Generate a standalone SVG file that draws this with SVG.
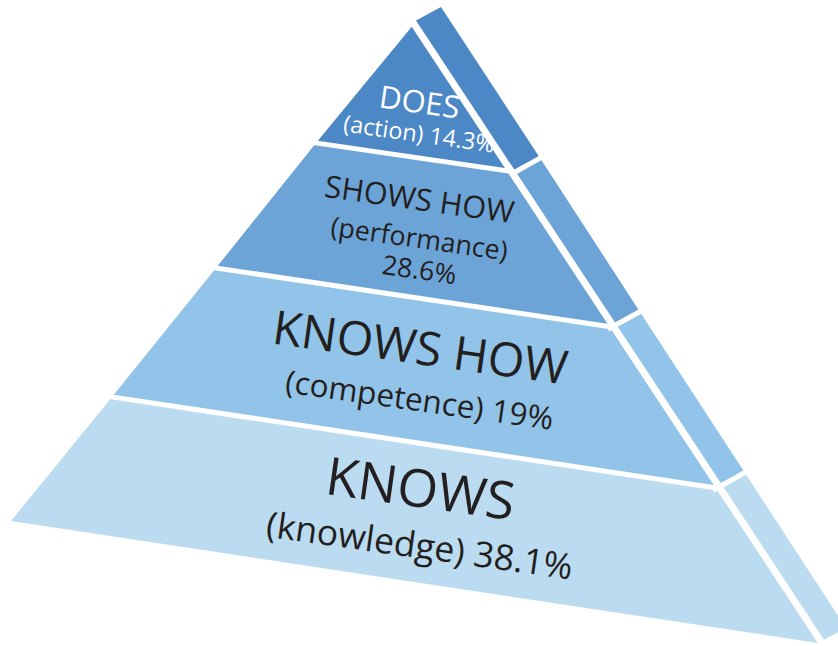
<svg xmlns="http://www.w3.org/2000/svg" width="838" height="646" viewBox="0 0 838 646">
<style>
.t{font-family:"Open Sans","Liberation Sans",sans-serif;text-anchor:middle;fill:#231f20}
.w{fill:#ffffff}
.sep{stroke:#ffffff;fill:none;stroke-linecap:butt}
.l1{fill:#4c87c6}
.l2{fill:#6ca4d8}
.l3{fill:#92c4e9}
.l4{fill:#bbdbf1}
</style>
<rect width="838" height="646" fill="#ffffff"/>
<g id="knows">
<polygon class="l4" points="112,397 717,488 818,643 11,521"/>
<polygon class="l4" points="717,488 745,473 846,628 818,643"/>
<text class="t" font-size="52.5" transform="rotate(8 418 507)" x="418" y="507">KNOWS</text>
<text class="t" font-size="35.5" transform="rotate(8 418 558)" x="418" y="558">(knowledge) 38.1%</text>
</g>
<g id="knows-how">
<polygon class="l3" points="216,268 613,327 717,488 112,397"/>
<polygon class="l3" points="612,327 640,312 745,473 717,488"/>
<text class="t" font-size="47" transform="rotate(8 418 364)" x="418" y="364">KNOWS HOW</text>
<text class="t" font-size="31.5" transform="rotate(8 418 411)" x="418" y="411">(competence) 19%</text>
</g>
<g id="shows-how">
<polygon class="l2" points="316,143 515,172 613,327 216,268"/>
<polygon class="l2" points="515,172 540,158 640,312 612,327"/>
<text class="t" font-size="30.6" transform="rotate(8 418 210)" x="418" y="210">SHOWS HOW</text>
<text class="t" font-size="26.8" transform="rotate(8 418 248)" x="418" y="248">(performance)</text>
<text class="t" font-size="26.7" transform="rotate(8 418 279)" x="418" y="279">28.6%</text>
</g>
<g id="does">
<polygon class="l1" points="414,24 516,172 316,143"/>
<polygon class="l1" points="412.8,22.2 441,7 540,158 515,172"/>
<text class="t w" font-size="31" transform="rotate(8 418 113)" x="418" y="113">DOES</text>
<text class="t w" font-size="23.4" transform="rotate(8 418 142)" x="418" y="142">(action) 14.3%</text>
</g>
<g id="separators">
<line class="sep" stroke-width="7" x1="398.3" y1="0" x2="824" y2="646"/>
<line class="sep" stroke-width="5" x1="300" y1="140.6" x2="516" y2="172.2"/>
<line class="sep" stroke-width="5" x1="200" y1="265.6" x2="614" y2="327.2"/>
<line class="sep" stroke-width="5" x1="95" y1="394.4" x2="718" y2="488.2"/>
<line class="sep" stroke-width="5" x1="511" y1="174.2" x2="546" y2="154.9"/>
<line class="sep" stroke-width="5" x1="608" y1="329.2" x2="646" y2="308.3"/>
<line class="sep" stroke-width="5" x1="713" y1="490.2" x2="751" y2="469.3"/>
</g>
</svg>
